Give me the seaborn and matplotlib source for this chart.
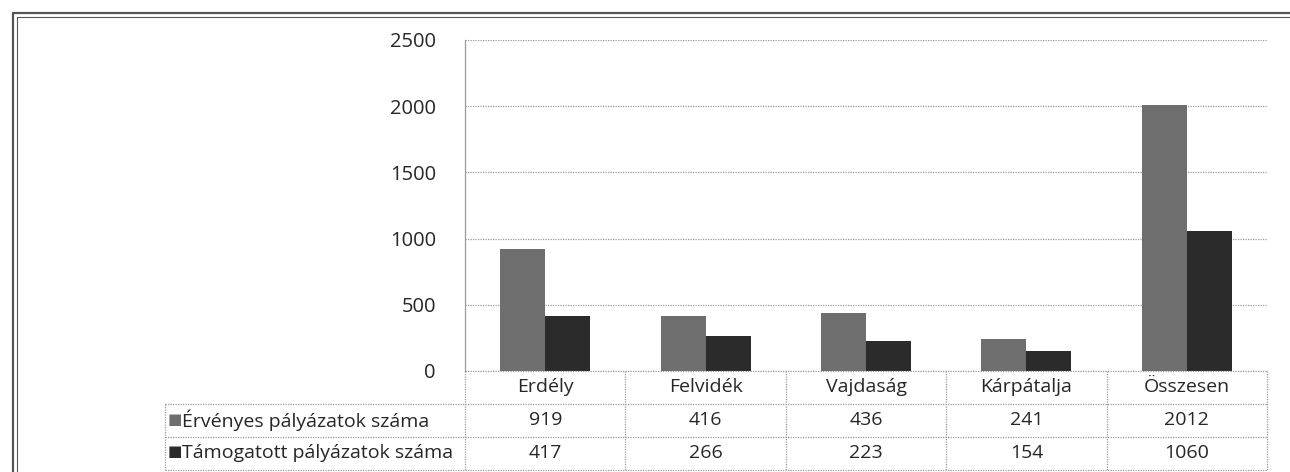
import matplotlib
matplotlib.use("Agg")
import matplotlib.pyplot as plt
import seaborn as sns
import pandas as pd
from matplotlib.lines import Line2D

regions = ["Erdély", "Felvidék", "Vajdaság", "Kárpátalja", "Összesen"]
series_names = ["Érvényes pályázatok száma", "Támogatott pályázatok száma"]
ervenyes = [919, 416, 436, 241, 2012]
tamogatott = [417, 266, 223, 154, 1060]
yticks = [0, 500, 1000, 1500, 2000, 2500]

df = pd.DataFrame({
    "region": regions * 2,
    "series": [series_names[0]] * 5 + [series_names[1]] * 5,
    "value": ervenyes + tamogatott,
})

sns.set_theme(style="white")
plt.rcParams["font.family"] = ["Open Sans", "DejaVu Sans"]
colors = ["#6e6e6e", "#2b2b2b"]
fs = 14.5

W, H = 1290, 472
fig = plt.figure(figsize=(12.9, 4.72), dpi=100)
ax = fig.add_axes([465 / W, 1 - 371 / H, 802 / W, 331 / H])

sns.barplot(data=df, x="region", y="value", hue="series", palette=colors,
            width=0.56, saturation=1, ax=ax, legend=False,
            linewidth=0, edgecolor="none")

ax.set_ylim(0, 2500)
ax.set_xlim(-0.5, len(regions) - 0.5)
ax.set_yticks(yticks)
ax.set_yticklabels([str(t) for t in yticks], fontsize=fs)
ax.tick_params(axis="y", length=0, pad=21)
ax.set_xticks([])
ax.set_xlabel("")
ax.set_ylabel("")
for t in yticks:
    ax.axhline(t, color="#9a9a9a", lw=0.9, ls=(0, (1, 1)), zorder=0)
for s in ["top", "right", "bottom"]:
    ax.spines[s].set_visible(False)
ax.spines["left"].set_color("#9a9a9a")
ax.spines["left"].set_linestyle((0, (1, 1)))
ax.spines["left"].set_linewidth(0.9)

# data table below the plot
tr = ax.get_xaxis_transform()
px = lambda y: (371 - y) / 331
row_y = [371, 404, 437, 470]
x_left = -0.5 - 300 / 160.4
x_right = len(regions) - 0.5
line_kw = dict(color="#9a9a9a", lw=0.9, ls=(0, (1, 1)), transform=tr, clip_on=False)

ax.plot([-0.5, x_right], [px(371)] * 2, **line_kw)
for y in row_y[1:]:
    ax.plot([x_left, x_right], [px(y)] * 2, **line_kw)
for i in range(len(regions) + 1):
    ax.plot([i - 0.5] * 2, [px(371), px(470)], **line_kw)
ax.plot([x_left] * 2, [px(404), px(470)], **line_kw)

for i, name in enumerate(regions):
    ax.text(i, px(387), name, ha="center", va="center", fontsize=fs - 0.5,
            transform=tr, clip_on=False)
    ax.text(i, px(420), str(ervenyes[i]), ha="center", va="center", fontsize=fs - 0.5,
            transform=tr, clip_on=False)
    ax.text(i, px(453), str(tamogatott[i]), ha="center", va="center", fontsize=fs - 0.5,
            transform=tr, clip_on=False)

for r, (name, c) in enumerate(zip(series_names, colors)):
    yc = 1 - (420 + 33 * r) / H
    fig.text(168 / W, yc, "■", color=c, fontsize=11, ha="left", va="center")
    fig.text(182 / W, yc, name, fontsize=fs - 0.5, ha="left", va="center")

# outer frame (left and top only)
for off, lw in [(0, 1.6), (4, 0.8)]:
    fig.add_artist(Line2D([(13 + off) / W] * 2, [0, 1 - (13 + off) / H],
                          color="#555555", lw=lw))
    fig.add_artist(Line2D([(13 + off) / W, 1], [1 - (13 + off) / H] * 2,
                          color="#555555", lw=lw))

fig.savefig("out.png", dpi=100)
